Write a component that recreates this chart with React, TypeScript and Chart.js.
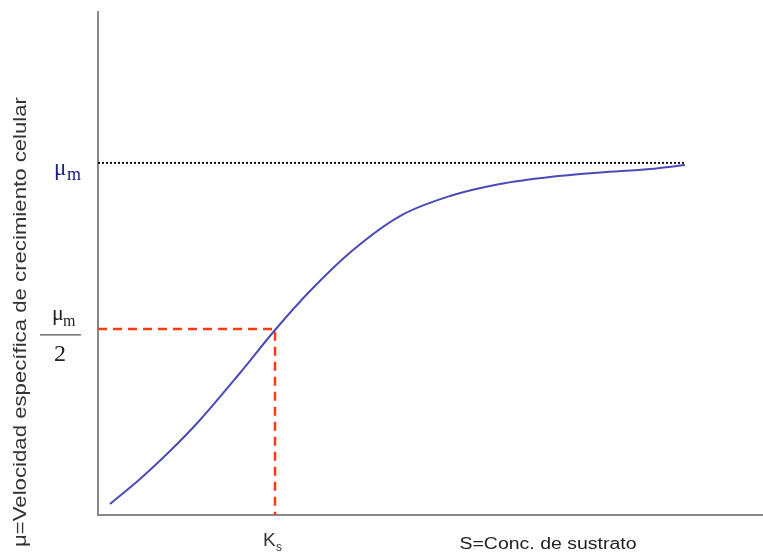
import React, { useEffect, useRef } from "react";
import { Chart, registerables } from "chart.js";

Chart.register(...registerables);

// Monod curve (x: substrate, y: growth rate), arbitrary units
const curveX = [1.8, 6.32, 10.83, 15.34, 21.35, 26.62, 31.88, 38.35, 45.41, 52.93, 60.45, 67.97, 75.49, 83.01, 88.27];
const curveY = [2.19, 7.16, 12.72, 18.89, 28.23, 36.78, 44.53, 52.68, 59.44, 63.42, 65.81, 67.2, 68.09, 68.79, 69.58];
const muMax = 70;
const muHalf = 37.0;
const ks = 26.62;
const xMin = 0;
const xMax = 100;
const yMin = 0;
const yMax = 100;
const xTitle = "S=Conc. de sustrato";
const yTitle = "μ=Velocidad específica de crecimiento celular";

function fitText(ctx: any, text: string, cx: number, cy: number, width: number, angle: number) {
  ctx.save();
  ctx.translate(cx, cy);
  ctx.rotate(angle);
  const w = ctx.measureText(text).width;
  ctx.scale(width / w, 1);
  ctx.textAlign = "center";
  ctx.fillText(text, 0, 0);
  ctx.restore();
}

const labelsPlugin = {
  id: "labels",
  afterDraw(chart: any) {
    const ctx = chart.ctx;
    const xs = chart.scales.x;
    const ys = chart.scales.y;
    ctx.save();
    ctx.textBaseline = "alphabetic";
    ctx.textAlign = "left";
    // μm label
    const yMu = ys.getPixelForValue(muMax);
    ctx.fillStyle = "#1a237e";
    ctx.font = "23px 'Liberation Serif'";
    ctx.fillText("μ", 54, yMu + 12);
    ctx.font = "18px 'Liberation Serif'";
    ctx.fillText("m", 67, yMu + 17);
    // μm / 2 label
    const yH = ys.getPixelForValue(muHalf);
    ctx.fillStyle = "#222";
    ctx.font = "22px 'Liberation Serif'";
    ctx.fillText("μ", 52, yH - 9);
    ctx.font = "16px 'Liberation Serif'";
    ctx.fillText("m", 63, yH - 3);
    ctx.strokeStyle = "#555";
    ctx.lineWidth = 1.2;
    ctx.beginPath();
    ctx.moveTo(40, yH + 6);
    ctx.lineTo(81, yH + 6);
    ctx.stroke();
    ctx.font = "24px 'Liberation Serif'";
    ctx.textAlign = "center";
    ctx.fillText("2", 60, yH + 32);
    // Ks
    const xK = xs.getPixelForValue(ks);
    const y0 = ys.getPixelForValue(yMin);
    ctx.fillStyle = "#333";
    ctx.textAlign = "left";
    ctx.font = "19px 'Liberation Sans'";
    ctx.fillText("K", xK - 12, y0 + 31);
    ctx.font = "12px 'Liberation Sans'";
    ctx.fillText("s", xK + 1, y0 + 36);
    // x title
    ctx.font = "16px 'Liberation Sans'";
    ctx.fillStyle = "#222";
    fitText(ctx, xTitle, 548, 549, 177, 0);
    // y title
    ctx.font = "18px 'Liberation Sans'";
    ctx.fillStyle = "#333";
    ctx.textBaseline = "middle";
    fitText(ctx, yTitle, 21, 322, 450, -Math.PI / 2);
    ctx.restore();
  },
};

export default function App() {
  const ref = useRef<HTMLCanvasElement>(null);
  useEffect(() => {
    document.body.style.margin = "0";
    const curve = curveX.map((x, i) => ({ x, y: curveY[i] }));
    const chart = new Chart(ref.current!, {
      type: "scatter",
      data: {
        datasets: [
          {
            data: [
              { x: xMin, y: muMax },
              { x: curveX[curveX.length - 1], y: muMax },
            ],
            showLine: true,
            borderColor: "#111",
            borderWidth: 2,
            borderDash: [2, 2],
            pointRadius: 0,
          },
          {
            data: [
              { x: xMin, y: muHalf },
              { x: ks, y: muHalf },
              { x: ks, y: yMin },
            ],
            showLine: true,
            borderColor: "#ff3b14",
            borderWidth: 2.5,
            borderDash: [9, 6],
            pointRadius: 0,
          },
          {
            data: curve,
            showLine: true,
            borderColor: "#4a4ab8",
            borderWidth: 2,
            cubicInterpolationMode: "monotone",
            pointRadius: 0,
          },
        ],
      },
      options: {
        responsive: false,
        animation: false,
        layout: { padding: { left: 98, top: 12, right: 0, bottom: 38 } },
        plugins: { legend: { display: false }, tooltip: { enabled: false } },
        scales: {
          x: {
            type: "linear",
            min: xMin,
            max: xMax,
            ticks: { display: false },
            grid: { display: false, drawTicks: false },
            border: { display: true, color: "#888", width: 2 },
          },
          y: {
            type: "linear",
            min: yMin,
            max: yMax,
            ticks: { display: false },
            grid: { display: false, drawTicks: false },
            border: { display: true, color: "#888", width: 2 },
          },
        },
      } as any,
      plugins: [labelsPlugin],
    });
    return () => chart.destroy();
  }, []);
  return (
    <div style={{ position: "absolute", left: 0, top: 0, width: 763, height: 553 }}>
      <canvas ref={ref} width={763} height={553} />
    </div>
  );
}
